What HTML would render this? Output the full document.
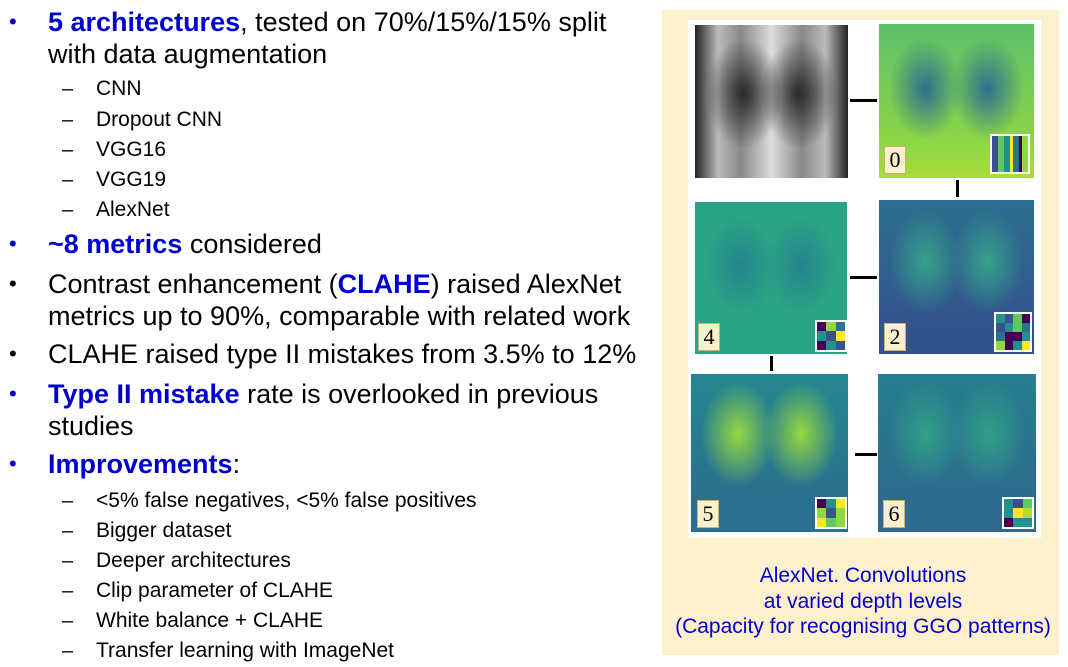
<!DOCTYPE html>
<html><head><meta charset="utf-8"><style>
body{margin:0;width:1068px;height:667px;background:#fff;position:relative;overflow:hidden;font-family:"Liberation Sans",Arial,sans-serif;}
.l{position:absolute;white-space:nowrap;color:#000;}
.m{font-size:27px;left:48px;}
.b{position:absolute;left:9px;font-size:22px;}
.s{font-size:21px;left:96px;}
.d{position:absolute;left:62px;font-size:20px;}
.hl{color:#0000cc;font-weight:bold;}
.blue{color:#0000cc;}
.img{position:absolute;overflow:hidden;}
.lab{position:absolute;background:#fdf0cc;border:1px solid #c9b27a;font-family:"Liberation Serif",serif;font-size:22px;width:20px;height:26px;line-height:26px;text-align:center;color:#000;}
.ins{position:absolute;border:2px solid #fff;display:grid;box-sizing:border-box;}
.ln{position:absolute;background:#000;}
</style></head><body>
<div>
<span class="b blue" style="top:9px">•</span><div class="l m" style="top:7px"><span class="hl">5 architectures</span>, tested on 70%/15%/15% split</div>
<div class="l m" style="top:39px">with data augmentation</div>
<span class="d" style="top:78px">–</span><div class="l s" style="top:77px">CNN</div>
<span class="d" style="top:109px">–</span><div class="l s" style="top:108px">Dropout CNN</div>
<span class="d" style="top:139px">–</span><div class="l s" style="top:138px">VGG16</div>
<span class="d" style="top:169px">–</span><div class="l s" style="top:168px">VGG19</div>
<span class="d" style="top:199px">–</span><div class="l s" style="top:198px">AlexNet</div>
<span class="b blue" style="top:231px">•</span><div class="l m" style="top:229px"><span class="hl">~8 metrics</span> considered</div>
<span class="b" style="top:271px">•</span><div class="l m" style="top:269px">Contrast enhancement (<span class="hl">CLAHE</span>) raised AlexNet</div>
<div class="l m" style="top:301px">metrics up to 90%, comparable with related work</div>
<span class="b" style="top:341px">•</span><div class="l m" style="top:339px">CLAHE raised type II mistakes from 3.5% to 12%</div>
<span class="b blue" style="top:381px">•</span><div class="l m" style="top:379px"><span class="hl">Type II mistake</span> rate is overlooked in previous</div>
<div class="l m" style="top:411px">studies</div>
<span class="b blue" style="top:451px">•</span><div class="l m" style="top:449px"><span class="hl">Improvements</span>:</div>
<span class="d" style="top:490px">–</span><div class="l s" style="top:489px">&lt;5% false negatives, &lt;5% false positives</div>
<span class="d" style="top:520px">–</span><div class="l s" style="top:519px">Bigger dataset</div>
<span class="d" style="top:550px">–</span><div class="l s" style="top:549px">Deeper architectures</div>
<span class="d" style="top:580px">–</span><div class="l s" style="top:579px">Clip parameter of CLAHE</div>
<span class="d" style="top:610px">–</span><div class="l s" style="top:609px">White balance + CLAHE</div>
<span class="d" style="top:640px">–</span><div class="l s" style="top:639px">Transfer learning with ImageNet</div>
</div>

<div style="position:absolute;left:662px;top:10px;width:397px;height:645px;background:#fdf0cc;">
<div style="position:absolute;left:26px;top:10px;width:353px;height:518px;background:#fff;"></div>
</div>

<div class="img" style="left:695px;top:25px;width:153px;height:153px;background:radial-gradient(ellipse 28% 40% at 32% 45%,#2a2a2a,transparent 90%),radial-gradient(ellipse 28% 40% at 68% 45%,#2a2a2a,transparent 90%),linear-gradient(90deg,#222,#bbb 15%,#888 30%,#ddd 50%,#888 70%,#bbb 85%,#222);"></div>
<div class="img" style="left:879px;top:24px;width:155px;height:154px;background:radial-gradient(ellipse 25% 35% at 30% 42%,#2f6e8e,transparent 95%),radial-gradient(ellipse 25% 35% at 70% 42%,#2f6e8e,transparent 95%),linear-gradient(180deg,#5cc06a,#8fd744 80%,#a9dc3a);"></div>
<div class="img" style="left:695px;top:202px;width:152px;height:152px;background:radial-gradient(ellipse 25% 35% at 30% 42%,#24848d,transparent 95%),radial-gradient(ellipse 25% 35% at 70% 42%,#24848d,transparent 95%),#2aa584;"></div>
<div class="img" style="left:879px;top:200px;width:155px;height:154px;background:radial-gradient(ellipse 25% 35% at 30% 40%,#35a28a,transparent 95%),radial-gradient(ellipse 25% 35% at 70% 40%,#35a28a,transparent 95%),linear-gradient(180deg,#2c6f8e,#33538d 85%);"></div>
<div class="img" style="left:691px;top:374px;width:157px;height:158px;background:radial-gradient(ellipse 25% 35% at 30% 38%,#95d840,transparent 95%),radial-gradient(ellipse 25% 35% at 70% 38%,#95d840,transparent 95%),linear-gradient(180deg,#24878e,#2b6f8e 85%);"></div>
<div class="img" style="left:878px;top:374px;width:158px;height:158px;background:radial-gradient(ellipse 25% 35% at 30% 38%,#30a087,transparent 95%),radial-gradient(ellipse 25% 35% at 70% 38%,#30a087,transparent 95%),linear-gradient(180deg,#267e8e,#2d6a8e 85%);"></div>

<div class="lab" style="left:884px;top:146px;">0</div>
<div class="lab" style="left:698px;top:323px;">4</div>
<div class="lab" style="left:884px;top:323px;">2</div>
<div class="lab" style="left:697px;top:500px;">5</div>
<div class="lab" style="left:883px;top:500px;">6</div>

<div class="ins" style="left:990px;top:134px;width:40px;height:40px;background:repeating-linear-gradient(90deg,#3b518b 0 6px,#5ec962 6px 12px,#21918c 12px 18px,#fde725 18px 21px,#2c728e 21px 27px,#440154 27px 30px,#90d743 30px 36px);"></div>
<div class="ins" style="left:815px;top:320px;width:32px;height:32px;grid-template-columns:repeat(3,1fr);"><i style="background:#440154"></i><i style="background:#90d743"></i><i style="background:#2c728e"></i><i style="background:#21918c"></i><i style="background:#3b518b"></i><i style="background:#fde725"></i><i style="background:#440154"></i><i style="background:#21918c"></i><i style="background:#3b518b"></i></div>
<div class="ins" style="left:994px;top:312px;width:38px;height:40px;grid-template-columns:repeat(4,1fr);"><i style="background:#21918c"></i><i style="background:#3b518b"></i><i style="background:#5ec962"></i><i style="background:#440154"></i><i style="background:#3b518b"></i><i style="background:#21918c"></i><i style="background:#5ec962"></i><i style="background:#2c728e"></i><i style="background:#2c728e"></i><i style="background:#440154"></i><i style="background:#440154"></i><i style="background:#21918c"></i><i style="background:#90d743"></i><i style="background:#440154"></i><i style="background:#21918c"></i><i style="background:#fde725"></i></div>
<div class="ins" style="left:815px;top:497px;width:32px;height:32px;grid-template-columns:repeat(3,1fr);"><i style="background:#440154"></i><i style="background:#21918c"></i><i style="background:#fde725"></i><i style="background:#90d743"></i><i style="background:#3b518b"></i><i style="background:#90d743"></i><i style="background:#fde725"></i><i style="background:#5ec962"></i><i style="background:#90d743"></i></div>
<div class="ins" style="left:1002px;top:497px;width:32px;height:32px;grid-template-columns:repeat(3,1fr);"><i style="background:#21918c"></i><i style="background:#3b518b"></i><i style="background:#5ec962"></i><i style="background:#21918c"></i><i style="background:#fde725"></i><i style="background:#b5de2b"></i><i style="background:#440154"></i><i style="background:#21918c"></i><i style="background:#21918c"></i></div>

<div class="ln" style="left:850px;top:99px;width:27px;height:3px;"></div>
<div class="ln" style="left:956px;top:180px;width:3px;height:17px;"></div>
<div class="ln" style="left:850px;top:276px;width:27px;height:3px;"></div>
<div class="ln" style="left:770px;top:356px;width:3px;height:15px;"></div>
<div class="ln" style="left:855px;top:453px;width:22px;height:3px;"></div>

<div style="position:absolute;left:662px;top:563px;width:402px;text-align:center;color:#0000cc;font-size:21px;line-height:25.5px;">AlexNet. Convolutions<br>at varied depth levels<br>(Capacity for recognising GGO patterns)</div>
</body></html>
